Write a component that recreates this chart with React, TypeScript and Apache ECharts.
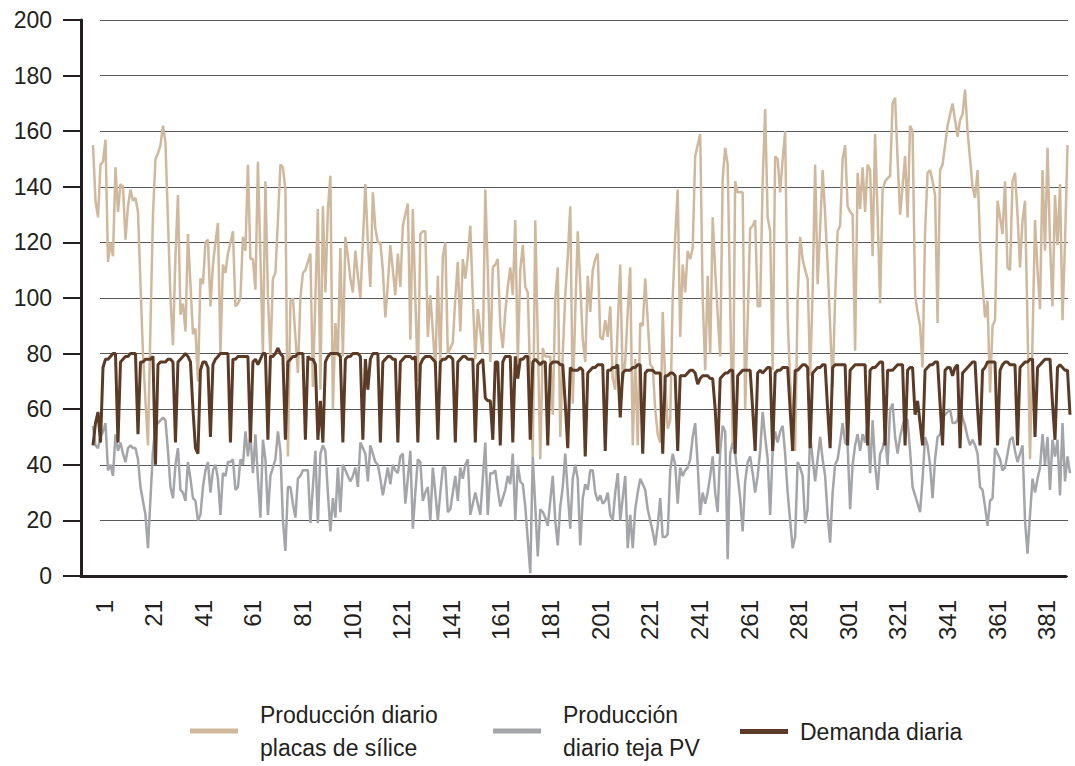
import React, { useEffect, useRef } from "react";
import * as echarts from "echarts";

const days: string[] = Array.from({ length: 392 }, (_, i) => String(i + 1));

const seriesNames = [
  "Producción diario\nplacas de sílice",
  "Producción\ndiario teja PV",
  "Demanda diaria",
];

const yMin = 0;
const yMax = 200;
const yStep = 20;

const placas: (number | null)[] = [
  155, 135, 129, 148, 149, 157, 113, 120, 115, 147,
  131, 141, 140, 121, 133, 139, 135, 136, 131, 105,
  80, 63, 47, 90, 130, 150, 152, 155, 162, 156,
  128, 100, 83, 115, 137, 94, 98, 88, 123, 105,
  87, 89, 70, 107, 105, 120, 121, 97, 112, 120,
  127, 80, 112, 109, 116, 120, 124, 97, 98, 100,
  122, 117, 148, 114, 114, 103, 149, 115, 80, 142,
  101, 79, 107, 109, 128, 148, 147, 139, 43, 99,
  100, 86, 73, 100, 109, 110, 113, 116, 68, 100,
  132, 67, 133, 102, 132, 144, 60, 91, 79, 118,
  79, 122, 115, 107, 102, 117, 108, 100, 120, 141,
  120, 104, 138, 125, 120, 120, 110, 93, 105, 119,
  110, 101, 116, 104, 126, 130, 134, 85, 132, 100,
  70, 123, 124, 124, 86, 101, 88, 74, 108, 76,
  115, 120, 80, 82, 84, 100, 113, 88, 114, 107,
  115, 126, 100, 78, 96, 88, 80, 139, 110, 77,
  111, 112, 114, 90, 82, 95, 104, 111, 101, 128,
  77, 110, 119, 104, 102, 70, 43, 128, 85, 42,
  82, 79, 79, 79, 58, 100, 111, 50, 80, 101,
  115, 133, 62, 95, 124, 105, 85, 77, 108, 95,
  110, 114, 116, 86, 85, 92, 86, 97, 71, 67,
  90, 112, 70, 77, 95, 111, 47, 78, 47, 91,
  90, 107, 92, 76, 75, 60, 51, 48, 95, 70,
  53, 56, 100, 122, 139, 86, 112, 102, 117, 114,
  118, 151, 155, 159, 100, 74, 108, 80, 129, 110,
  94, 79, 143, 154, 148, 98, 48, 142, 138, 138,
  138, 60, 92, 125, 126, 128, 97, 97, 142, 168,
  129, 124, 74, 151, 150, 138, 150, 160, 93, 70,
  58, 45, 100, 122, 114, 110, 107, 72, 102, 148,
  105, 125, 146, 130, 112, 90, 68, 100, 124, 126,
  150, 155, 133, 131, 130, 81, 145, 132, 147, 131,
  148, 146, 115, 159, 130, 98, 139, 142, 143, 144,
  170, 172, 150, 130, 140, 151, 129, 162, 160, 101,
  95, 90, 75, 124, 145, 146, 142, 137, 91, 146,
  148, 155, 162, 166, 170, 164, 158, 164, 166, 175,
  160, 150, 140, 136, 146, 120, 105, 93, 99, 66,
  90, 92, 135, 129, 123, 142, 111, 110, 142, 145,
  130, 111, 128, 135, 90, 42, 85, 128, 110, 96,
  146, 117, 154, 120, 97, 137, 119, 141, 92, 120,
  155, null,
];

const teja: number[] = [
  54, 47, 46, 50, 52, 55, 38, 40, 36, 51,
  45, 48, 44, 41, 46, 47, 46, 46, 42, 32,
  27, 22, 10, 28, 45, 54, 55, 56, 57, 56,
  45, 32, 28, 40, 46, 31, 30, 27, 41, 35,
  28, 27, 20, 22, 32, 38, 41, 30, 38, 40,
  35, 22, 37, 36, 41, 41, 42, 31, 32, 42,
  40, 52, 43, 51, 37, 51, 35, 21, 49, 42,
  22, 36, 39, 42, 52, 45, 20, 9, 32, 32,
  26, 21, 35, 36, 38, 38, 38, 19, 32, 45,
  19, 44, 47, 45, 30, 16, 28, 21, 39, 23,
  40, 38, 36, 34, 36, 39, 32, 48, 46, 44,
  34, 47, 44, 41, 40, 35, 29, 34, 39, 33,
  40, 38, 37, 43, 44, 26, 35, 45, 17, 30,
  42, 41, 27, 30, 32, 20, 39, 30, 20, 30,
  39, 39, 23, 24, 30, 36, 27, 39, 35, 40,
  42, 22, 26, 30, 26, 22, 35, 48, 22, 37,
  37, 38, 31, 25, 28, 31, 36, 33, 44, 20,
  40, 34, 33, 25, 13, 1, 43, 25, 7, 24,
  23, 21, 18, 27, 36, 20, 11, 25, 32, 44,
  30, 17, 35, 40, 35, 11, 28, 33, 31, 38,
  38, 30, 27, 29, 26, 27, 30, 22, 20, 30,
  37, 20, 28, 36, 10, 22, 10, 24, 30, 35,
  33, 31, 24, 20, 16, 11, 18, 28, 14, 14,
  15, 38, 44, 40, 26, 39, 36, 38, 39, 42,
  50, 55, 40, 22, 30, 26, 30, 36, 43, 30,
  23, 45, 54, 52, 6, 44, 48, 44, 36, 28,
  16, 34, 41, 43, 37, 30, 36, 45, 59, 50,
  42, 22, 45, 52, 48, 52, 54, 44, 30, 20,
  10, 14, 41, 39, 36, 19, 24, 51, 42, 34,
  42, 50, 42, 36, 22, 12, 30, 40, 42, 48,
  55, 48, 47, 24, 40, 47, 51, 45, 51, 48,
  55, 37, 56, 40, 31, 44, 46, 50, 40, 60,
  62, 50, 44, 50, 54, 57, 56, 45, 32, 29,
  26, 23, 35, 50, 47, 40, 28, 42, 50, 51,
  57, 58, 59, 60, 55, 55, 56, 61, 57, 54,
  50, 47, 49, 47, 44, 32, 31, 25, 18, 27,
  28, 46, 44, 42, 38, 39, 44, 49, 50, 45,
  41, 44, 47, 20, 8, 22, 35, 30, 35, 39,
  51, 40, 50, 31, 49, 43, 49, 29, 55, 34,
  43, 37,
];

const demanda: number[] = [
  47, 55, 59, 48, 75, 78, 78, 79, 80, 80,
  48, 77, 78, 79, 79, 80, 80, 80, 51, 77,
  77, 78, 78, 78, 79, 40, 76, 77, 77, 77,
  78, 78, 77, 48, 77, 78, 79, 80, 79, 77,
  60, 46, 44, 74, 77, 77, 75, 50, 76, 78,
  79, 80, 80, 80, 80, 48, 78, 78, 79, 79,
  79, 79, 79, 48, 77, 78, 76, 78, 80, 80,
  49, 79, 79, 80, 82, 80, 79, 49, 77, 78,
  79, 79, 80, 80, 80, 49, 79, 78, 78, 76,
  49, 63, 48, 77, 79, 80, 80, 80, 80, 79,
  48, 78, 79, 79, 80, 80, 80, 79, 49, 78,
  67, 78, 80, 80, 80, 48, 77, 78, 79, 79,
  78, 78, 48, 77, 78, 79, 79, 79, 78, 79,
  48, 76, 78, 79, 79, 79, 78, 77, 49, 77,
  78, 78, 79, 79, 78, 48, 77, 78, 79, 79,
  78, 78, 78, 48, 76, 77, 78, 64, 63, 63,
  49, 77, 77, 47, 77, 79, 79, 79, 48, 79,
  71, 78, 78, 79, 79, 49, 77, 78, 77, 76,
  77, 77, 47, 76, 77, 77, 77, 76, 76, 62,
  46, 75, 74, 74, 74, 75, 74, 43, 73, 74,
  75, 75, 76, 76, 76, 45, 74, 74, 75, 75,
  76, 57, 73, 74, 74, 74, 75, 75, 76, 76,
  44, 73, 74, 74, 74, 73, 73, 73, 44, 72,
  72, 73, 73, 72, 45, 72, 72, 72, 73, 74,
  74, 73, 69, 71, 72, 72, 72, 71, 71, 60,
  44, 71, 72, 73, 73, 74, 74, 44, 72, 73,
  74, 74, 74, 74, 60, 45, 73, 74, 73, 74,
  75, 75, 45, 73, 74, 74, 75, 75, 75, 60,
  45, 74, 74, 75, 76, 76, 75, 46, 73, 74,
  75, 75, 76, 76, 60, 46, 75, 76, 76, 76,
  76, 76, 47, 74, 75, 76, 76, 76, 76, 76,
  47, 74, 75, 75, 76, 77, 77, 47, 74, 74,
  74, 75, 76, 76, 76, 47, 74, 75, 75, 58,
  63, 55, 47, 74, 75, 76, 76, 77, 77, 62,
  47, 74, 75, 75, 72, 75, 76, 46, 73, 74,
  75, 76, 77, 77, 60, 47, 74, 75, 77, 77,
  77, 77, 47, 74, 76, 77, 77, 76, 76, 76,
  47, 75, 76, 77, 77, 78, 78, 50, 75, 76,
  77, 78, 78, 78, 62, 49, 75, 76, 75, 74,
  74, 58,
];

const colors = ["#d0b89c", "#a3a5a8", "#5b3b26"];
const ink = "#231f20";
const font = "'Liberation Sans', Arial, sans-serif";

export default function App() {
  const ref = useRef<HTMLDivElement>(null);

  useEffect(() => {
    if (!ref.current) return;
    const chart = echarts.init(ref.current, undefined, { renderer: "svg" });

    const legendBase = {
      orient: "horizontal",
      icon: "rect",
      itemWidth: 48,
      itemHeight: 5,
      padding: 0,
    };
    const legendText = (padLeft: number) => ({
      fontSize: 23,
      lineHeight: 33,
      fontFamily: font,
      color: ink,
      padding: [0, 0, 0, padLeft],
    });

    chart.setOption({
      animation: false,
      backgroundColor: "#ffffff",
      grid: [
        { left: 93, right: 5, top: 20, bottom: 190, outerBoundsMode: "none" },
        { left: 100, right: 7, top: 20, bottom: 190, outerBoundsMode: "none" },
        { left: 81, right: 9, top: 20, bottom: 190, outerBoundsMode: "none" },
        { left: 104, right: 1, top: 20, bottom: 190, outerBoundsMode: "none" },
      ],
      legend: [
        { ...legendBase, data: [seriesNames[0]], left: 190, top: 698, textStyle: legendText(17) },
        { ...legendBase, data: [seriesNames[1]], left: 493, top: 698, textStyle: legendText(17) },
        { ...legendBase, data: [seriesNames[2]], left: 740, top: 715, textStyle: legendText(7) },
      ],
      xAxis: [
        {
          gridIndex: 0,
          type: "category",
          data: days,
          boundaryGap: false,
          axisLine: { show: false },
          axisTick: { show: false },
          axisLabel: { show: false },
          splitLine: { show: false },
        },
        { gridIndex: 1, type: "value", show: false },
        {
          gridIndex: 2,
          type: "value",
          min: 0,
          max: 1,
          axisLine: { show: true, lineStyle: { color: ink, width: 3 } },
          axisTick: { show: false },
          axisLabel: { show: false },
          splitLine: { show: false },
        },
        {
          gridIndex: 3,
          type: "category",
          data: days,
          boundaryGap: false,
          axisLine: { show: false },
          axisTick: { show: false },
          splitLine: { show: false },
          axisLabel: {
            interval: 19,
            rotate: 90,
            margin: 24,
            fontSize: 24,
            fontFamily: font,
            color: ink,
          },
        },
      ],
      yAxis: [
        {
          gridIndex: 0,
          type: "value",
          min: yMin,
          max: yMax,
          interval: yStep,
          offset: 12,
          axisLine: { show: true, lineStyle: { color: ink, width: 3 } },
          axisTick: { show: true, length: 18, lineStyle: { color: ink, width: 2 } },
          axisLabel: { margin: 29, fontSize: 23, fontFamily: font, color: ink },
          splitLine: { show: false },
        },
        {
          gridIndex: 1,
          type: "value",
          min: yMin,
          max: yMax,
          interval: yStep,
          axisLine: { show: false },
          axisTick: { show: false },
          axisLabel: { show: false },
          splitLine: { show: true, lineStyle: { color: "#58595b", width: 1 } },
        },
        { gridIndex: 2, type: "value", min: 0, max: 1, show: false },
        { gridIndex: 3, type: "value", min: 0, max: 1, show: false },
      ],
      series: [
        {
          name: seriesNames[0],
          type: "line",
          xAxisIndex: 0,
          yAxisIndex: 0,
          data: placas,
          symbol: "none",
          lineStyle: { color: colors[0], width: 2.5 },
          itemStyle: { color: colors[0] },
        },
        {
          name: seriesNames[1],
          type: "line",
          xAxisIndex: 0,
          yAxisIndex: 0,
          data: teja,
          symbol: "none",
          lineStyle: { color: colors[1], width: 2.5 },
          itemStyle: { color: colors[1] },
        },
        {
          name: seriesNames[2],
          type: "line",
          xAxisIndex: 0,
          yAxisIndex: 0,
          data: demanda,
          symbol: "none",
          lineStyle: { color: colors[2], width: 3 },
          itemStyle: { color: colors[2] },
        },
      ],
    });

    return () => chart.dispose();
  }, []);

  return (
    <div
      ref={ref}
      style={{ position: "fixed", left: 0, top: 0, width: 1075, height: 766, background: "#fff" }}
    />
  );
}
